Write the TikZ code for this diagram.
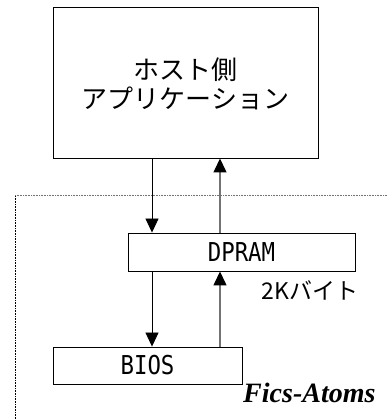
\documentclass[tikz,border=0pt]{standalone}
\usepackage{fontspec}
\newfontfamily\jp{Noto Sans CJK JP}
\newfontfamily\mono[FakeStretch=0.86]{DejaVu Sans Mono}
\newfontfamily\tms{Liberation Serif}
\usetikzlibrary{arrows.meta}
\begin{document}
\begin{tikzpicture}[x=1pt,y=-1pt,
  box/.style={draw=black,line width=0.9pt,inner sep=0pt},
  dn/.style={draw=black,line width=0.8pt,-{Triangle[length=14pt,width=13pt]}},
  up/.style={draw=black!55,line width=1.3pt,-{Triangle[length=14pt,width=13pt,fill=black,color=black]}}]
\useasboundingbox (0,0) rectangle (387,419);
% frame
\draw[black!55,line width=1pt,dash pattern=on 1pt off 0.6pt] (15,196) -- (387,196);
\draw[black,line width=1pt,dash pattern=on 1pt off 0.6pt] (15,196) -- (15,419);
% boxes
\node[box,minimum width=265pt,minimum height=151pt] (host) at (185.5,82.5) {};
\node[font=\jp\fontsize{26}{29}\selectfont,align=center] (hosttxt) at (185.5,84) {ホスト側\\アプリケーション};
\node[box,minimum width=227pt,minimum height=38pt,font=\mono\fontsize{26}{28}\selectfont] (dpram) at (241.5,252) {DPRAM};
\node[box,minimum width=189pt,minimum height=37pt,font=\mono\fontsize{26}{28}\selectfont] (bios) at (147.5,365.5) {BIOS};
\node[font=\jp\fontsize{23}{26}\selectfont,anchor=west] (kb) at (258,290) {2Kバイト};
\node[font=\tms\bfseries\itshape\fontsize{28}{30}\selectfont,anchor=east] (fa) at (379,393) {Fics-Atoms};
% arrows
\draw[dn] (host.south -| 152,0) -- (dpram.north -| 152,0);
\draw[up] (dpram.north -| 220,0) -- (host.south -| 220,0);
\draw[dn] (dpram.south -| 152,0) -- (bios.north -| 152,0);
\draw[up] (bios.north -| 220,0) -- (dpram.south -| 220,0);
\end{tikzpicture}
\end{document}
